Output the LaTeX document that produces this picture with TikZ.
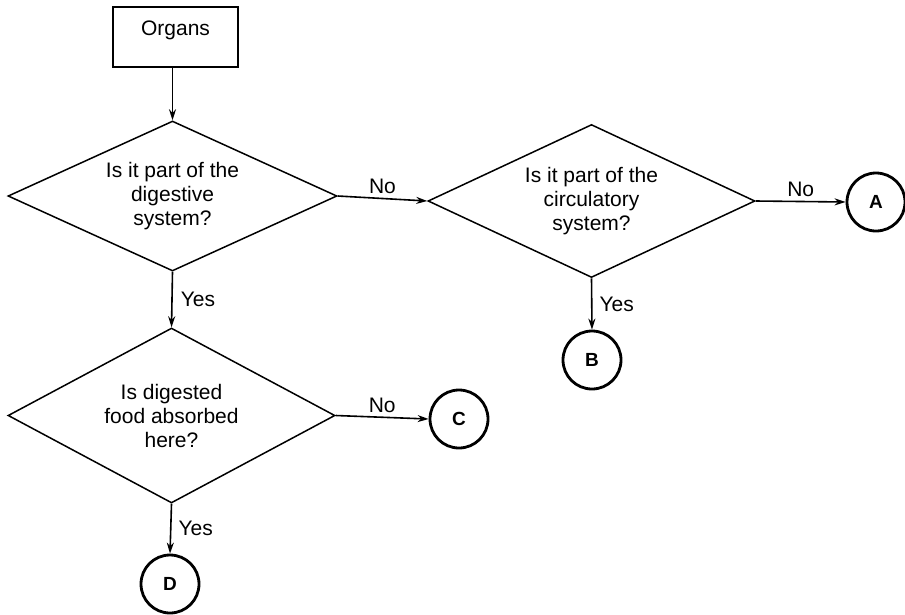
\documentclass[tikz,border=0pt]{standalone}
\usepackage{fontspec}
\setmainfont{Liberation Sans}
\usetikzlibrary{shapes.geometric,arrows.meta}
\begin{document}
\begin{tikzpicture}[x=1pt,y=-1pt,
  txt/.style={font=\fontsize{21}{24}\selectfont},
  box/.style={draw,line width=1.6pt,minimum width=125pt,inner xsep=0pt,inner ysep=6pt,
              text height=22pt,text depth=26pt,txt},
  dia/.style={draw,diamond,aspect=2.2,inner sep=0pt,line width=1.5pt,align=center,txt},
  term/.style={draw,circle,line width=2.8pt,minimum size=58pt,inner sep=0pt,
               font=\fontsize{19}{21}\selectfont\bfseries},
  arr/.style={line width=1.6pt,-{Stealth[length=11pt,width=7pt]}},
  lab/.style={txt,inner sep=2pt}]
\useasboundingbox (0,0) rectangle (905,614);
\node[box] (organs) at (175.5,37) {Organs};
\node[dia,minimum width=329pt,minimum height=150pt] (d1) at (172.5,196)
  {Is it part of the\\digestive\\system?};
\node[dia,minimum width=327pt,minimum height=153pt] (d2) at (591.5,201)
  {Is it part of the\\circulatory\\system?};
\node[dia,minimum width=327pt,minimum height=175pt] (d3) at (171.5,415.5)
  {Is digested\\food absorbed\\here?};
\node[term] (A) at (876,202) {A};
\node[term] (B) at (592,360) {B};
\node[term] (C) at (459,419) {C};
\node[term] (D) at (170,584) {D};
\draw[arr] (d1.north |- organs.south) -- (d1.north);
\draw[arr] (d1.east) -- node[lab,above=2pt] {No} (d2.west);
\draw[arr] (d2.east) -- node[lab,above=2pt] {No} (A.west);
\draw[arr] (d2.south) -- node[lab,right=5pt] {Yes} (B.north);
\draw[arr] (d1.south) -- node[lab,right=6pt] {Yes} (d3.north);
\draw[arr] (d3.east) -- node[lab,above=2pt] {No} (C.west);
\draw[arr] (d3.south) -- node[lab,right=5pt] {Yes} (D.north);
\end{tikzpicture}
\end{document}
